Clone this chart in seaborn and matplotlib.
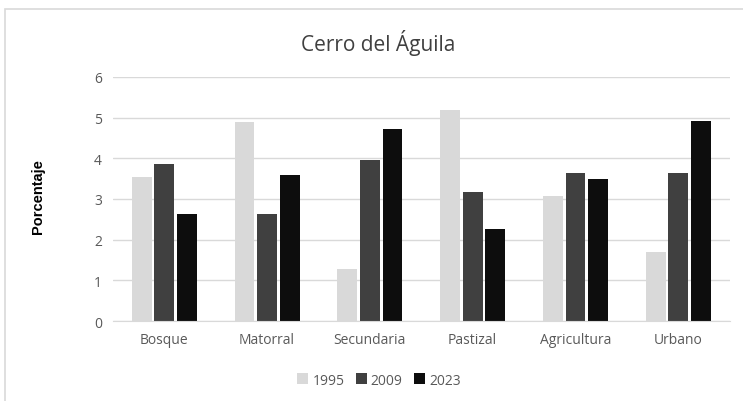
import numpy as np
import pandas as pd
import matplotlib.pyplot as plt
import seaborn as sns
from matplotlib.patches import Rectangle

categorias = ['Bosque', 'Matorral', 'Secundaria', 'Pastizal', 'Agricultura', 'Urbano']
anios = ['1995', '2009', '2023']
v1995 = [3.54, 4.90, 1.27, 5.18, 3.08, 1.70]
v2009 = [3.86, 2.63, 3.97, 3.17, 3.63, 3.64]
v2023 = [2.63, 3.58, 4.73, 2.25, 3.50, 4.92]
colores = ['#d9d9d9', '#404040', '#0d0d0d']

df = pd.DataFrame({'Categoria': categorias * 3,
                   'Anio': np.repeat(anios, len(categorias)),
                   'Porcentaje': v1995 + v2009 + v2023})

sns.set_style('white')
plt.rcParams['font.family'] = ['Open Sans', 'DejaVu Sans']

fig = plt.figure(figsize=(7.43, 4.02), dpi=100)
ax = fig.add_axes([0.152, 0.199, 0.830, 0.607])

sns.barplot(data=df, x='Categoria', y='Porcentaje', hue='Anio',
            palette=colores, width=0.66, gap=0.12, ax=ax,
            edgecolor='none', linewidth=0, legend=False)

ax.set_ylim(0, 6)
ax.set_yticks(range(0, 7))
ax.yaxis.grid(True, color='#d9d9d9', linewidth=1)
ax.set_axisbelow(True)
for s in ['top', 'right', 'left']:
    ax.spines[s].set_visible(False)
ax.spines['bottom'].set_color('#d9d9d9')
ax.tick_params(axis='both', length=0, labelsize=10, colors='#595959', pad=8)
ax.set_xlabel('')
ax.set_ylabel('')

# titulo y etiqueta del eje centrados como en el original
fig.text(0.509, 0.893, 'Cerro del Águila', fontsize=15, color='#404040',
         ha='center', va='center')
fig.text(0.051, 0.51, 'Porcentaje', rotation=90, fontsize=10.5, fontweight='bold',
         color='black', ha='center', va='center', family=['Liberation Sans', 'DejaVu Sans'])

handles = [Rectangle((0, 0), 1, 1, facecolor=c, edgecolor='none') for c in colores]
fig.legend(handles, anios, loc='center', bbox_to_anchor=(0.51, 0.052), ncol=3,
           frameon=False, fontsize=10, handlelength=0.8, handleheight=0.8,
           handletextpad=0.3, columnspacing=0.8, labelcolor='#595959')

# marco del grafico
fig.patches.append(Rectangle((0.007, -0.1), 1.1, 1.075, transform=fig.transFigure,
                             fill=False, edgecolor='#d9d9d9', linewidth=1.2))

fig.savefig('out.png', dpi=100)
